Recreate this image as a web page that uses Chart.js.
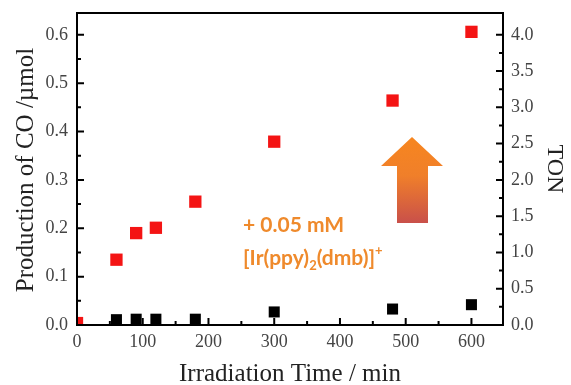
<!DOCTYPE html>
<html>
<head>
<meta charset="utf-8">
<script src="https://cdn.jsdelivr.net/npm/chart.js@4/dist/chart.umd.min.js"></script>
<style>
  html, body { margin: 0; padding: 0; background: #fff; }
  #wrap { width: 571px; height: 385px; }
</style>
</head>
<body>
<div id="wrap"><canvas id="chart" width="571" height="385"></canvas></div>
<script>
// ─── DATA ──────────────────────────────────────────────
const timeMin = [0, 60, 90, 120, 180, 300, 480, 600];
const coWithIr = [0.004, 0.135, 0.19, 0.201, 0.255, 0.379, 0.464, 0.606];
const timeBlank = [60, 90, 120, 180, 300, 480, 600];
const coBlank = [0.011, 0.012, 0.012, 0.012, 0.027, 0.033, 0.042];
const xTicks = [0, 100, 200, 300, 400, 500, 600];
const yTicks = [0, 0.1, 0.2, 0.3, 0.4, 0.5, 0.6];
const tonTicks = [0, 0.5, 1.0, 1.5, 2.0, 2.5, 3.0, 3.5, 4.0];

const X_MAX = 648, Y_MAX = 0.645, TON_MAX = 4.3;
const serif = '"Liberation Serif", "Times New Roman", serif';

// ticks inward + tick labels + frame + titles + annotation
const framePlugin = {
    id: 'frame',
    afterDatasetsDraw(chart) {
        const { ctx, chartArea: a, scales } = chart;
        ctx.save();
        ctx.strokeStyle = '#000';
        ctx.lineWidth = 2;
        ctx.beginPath();
        const tick = (x1, y1, x2, y2) => { ctx.moveTo(x1, y1); ctx.lineTo(x2, y2); };
        for (let v = 0; v <= X_MAX; v += 50) {
            const px = scales.x.getPixelForValue(v);
            const len = v % 100 === 0 ? 7 : 4;
            tick(px, a.bottom, px, a.bottom - len);
        }
        for (let i = 0; i <= 12; i++) {
            const py = scales.y.getPixelForValue(i * 0.05);
            tick(a.left, py, a.left + (i % 2 === 0 ? 7 : 4), py);
        }
        for (let i = 0; i <= 16; i++) {
            const py = scales.ton.getPixelForValue(i * 0.25);
            tick(a.right, py, a.right - (i % 2 === 0 ? 7 : 4), py);
        }
        ctx.stroke();
        ctx.strokeRect(a.left, a.top, a.right - a.left, a.bottom - a.top);

        // tick labels
        ctx.fillStyle = '#444';
        ctx.font = '18px ' + serif;
        ctx.textBaseline = 'middle';
        ctx.textAlign = 'center';
        scales.x.ticks.forEach(t => ctx.fillText(String(t.value), scales.x.getPixelForValue(t.value), a.bottom + 17));
        ctx.textAlign = 'right';
        scales.y.ticks.forEach(t => ctx.fillText(t.value.toFixed(1), a.left - 9, scales.y.getPixelForValue(t.value)));
        ctx.textAlign = 'left';
        scales.ton.ticks.forEach(t => ctx.fillText(t.value.toFixed(1), a.right + 8, scales.ton.getPixelForValue(t.value)));

        // axis titles
        ctx.fillStyle = '#222';
        ctx.font = '25px ' + serif;
        ctx.textAlign = 'center';
        ctx.textBaseline = 'alphabetic';
        ctx.fillText('Irradiation Time / min', 290, 381);
        ctx.save();
        ctx.translate(33, 170);
        ctx.rotate(-Math.PI / 2);
        ctx.fillText('Production of CO /\u00b5mol', 0, 0);
        ctx.restore();
        ctx.save();
        ctx.translate(548, 169);
        ctx.rotate(Math.PI / 2);
        ctx.font = '24px ' + serif;
        ctx.fillText('TON', 0, 0);
        ctx.restore();

        // arrow
        const g = ctx.createLinearGradient(0, 137, 0, 223);
        g.addColorStop(0, '#f7861f');
        g.addColorStop(0.45, '#f07f2a');
        g.addColorStop(1, '#c9504a');
        ctx.fillStyle = g;
        ctx.beginPath();
        ctx.moveTo(412, 137);
        ctx.lineTo(443, 166);
        ctx.lineTo(428, 166);
        ctx.lineTo(428, 223);
        ctx.lineTo(397, 223);
        ctx.lineTo(397, 166);
        ctx.lineTo(381, 166);
        ctx.closePath();
        ctx.fill();

        // annotation
        ctx.fillStyle = '#ef8a2c';
        ctx.textAlign = 'left';
        ctx.textBaseline = 'alphabetic';
        const big = 'bold 21px Lato, "Open Sans", sans-serif';
        const small = 'bold 13px Lato, "Open Sans", sans-serif';
        ctx.font = big;
        ctx.fillText('+ 0.05 mM', 243, 232);
        let x = 243;
        const part = (s, font, dy) => {
            ctx.font = font;
            ctx.fillText(s, x, 265 + dy);
            x += ctx.measureText(s).width;
        };
        part('[Ir(ppy)', big, 0);
        part('2', small, 5);
        part('(dmb)]', big, 0);
        part('+', small, -10);
        ctx.restore();
    }
};

const hiddenTicks = { display: false };

const ctx = document.getElementById('chart').getContext('2d');
new Chart(ctx, {
    type: 'scatter',
    data: {
        datasets: [
            {
                label: 'blank',
                data: timeBlank.map((t, i) => ({ x: t, y: coBlank[i] })),
                pointStyle: 'rect',
                pointRadius: 7.8,
                backgroundColor: '#000',
                borderWidth: 0,
                clip: 0
            },
            {
                label: 'Ir',
                data: timeMin.map((t, i) => ({ x: t, y: coWithIr[i] })),
                pointStyle: 'rect',
                pointRadius: 8.7,
                backgroundColor: '#f41414',
                borderWidth: 0,
                clip: 0
            }
        ]
    },
    options: {
        responsive: false,
        animation: false,
        layout: { padding: { top: 13, right: 0, left: 0, bottom: 0 } },
        plugins: { legend: { display: false }, tooltip: { enabled: false } },
        scales: {
            x: {
                type: 'linear', min: 0, max: X_MAX,
                grid: { display: false, drawTicks: false },
                border: { display: false },
                afterBuildTicks: s => { s.ticks = xTicks.map(v => ({ value: v })); },
                afterFit: s => { s.height = 60; },
                ticks: hiddenTicks
            },
            y: {
                type: 'linear', position: 'left', min: 0, max: Y_MAX,
                grid: { display: false, drawTicks: false },
                border: { display: false },
                afterBuildTicks: s => { s.ticks = yTicks.map(v => ({ value: v })); },
                afterFit: s => { s.width = 77; },
                ticks: hiddenTicks
            },
            ton: {
                type: 'linear', position: 'right', min: 0, max: TON_MAX,
                grid: { display: false, drawTicks: false },
                border: { display: false },
                afterBuildTicks: s => { s.ticks = tonTicks.map(v => ({ value: v })); },
                afterFit: s => { s.width = 68; },
                ticks: hiddenTicks
            }
        }
    },
    plugins: [framePlugin]
});
</script>
</body>
</html>
